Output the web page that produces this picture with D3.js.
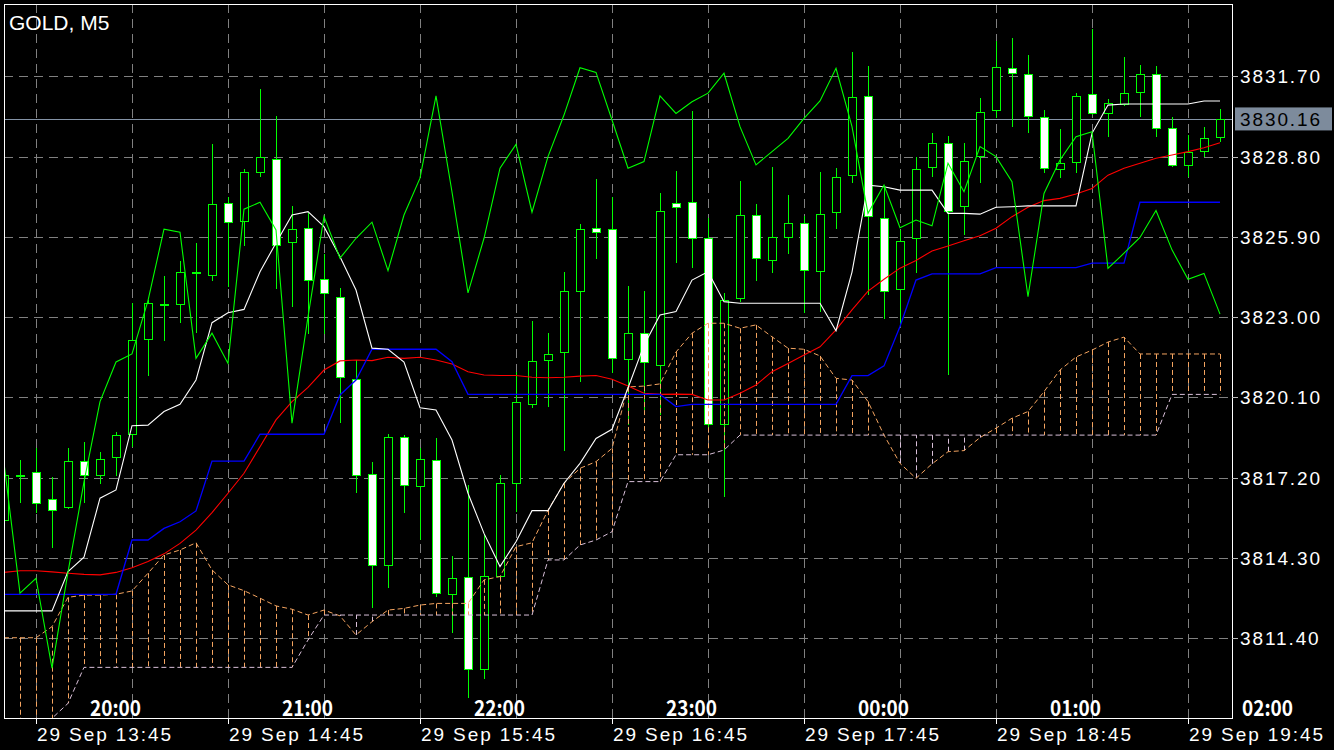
<!DOCTYPE html>
<html><head><meta charset="utf-8">
<script src="https://cdn.jsdelivr.net/npm/d3@7"></script>
<style>html,body{margin:0;padding:0;background:#000;overflow:hidden}</style>
</head><body>
<svg id="chart" width="1334" height="750"></svg>
<script>
// ---------------- DATA ----------------
const symbolTitle = "GOLD, M5";
const barTimes = ["13:35","13:40","13:45","13:50","13:55",
"14:00","14:05","14:10","14:15","14:20","14:25","14:30","14:35","14:40","14:45","14:50","14:55",
"15:00","15:05","15:10","15:15","15:20","15:25","15:30","15:35","15:40","15:45","15:50","15:55",
"16:00","16:05","16:10","16:15","16:20","16:25","16:30","16:35","16:40","16:45","16:50","16:55",
"17:00","17:05","17:10","17:15","17:20","17:25","17:30","17:35","17:40","17:45","17:50","17:55",
"18:00","18:05","18:10","18:15","18:20","18:25","18:30","18:35","18:40","18:45","18:50","18:55",
"19:00","19:05","19:10","19:15","19:20","19:25","19:30","19:35","19:40","19:45","19:50","19:55"];

const openP = [3815.67,3817.30,3817.42,3816.42,3816.13,3817.79,3817.30,3817.94,3818.78,3822.20,
3823.48,3823.46,3824.63,3824.51,3827.11,3826.45,3828.23,3828.72,3825.70,3826.23,
3824.37,3823.72,3820.76,3817.32,3814.05,3818.66,3816.90,3817.84,3812.99,3813.60,
3810.28,3813.63,3817.00,3819.85,3821.45,3821.73,3823.94,3826.21,3826.17,3821.48,
3822.42,3821.27,3827.11,3827.15,3825.85,3819.14,3823.68,3826.69,3825.04,3825.87,
3826.39,3824.67,3826.79,3828.13,3831.00,3826.59,3824.01,3825.85,3828.41,3829.28,
3827.03,3828.80,3830.46,3832.01,3831.78,3830.24,3828.35,3828.62,3831.05,3830.36,
3830.70,3831.12,3831.77,3829.82,3828.52,3828.98,3829.50];
const highP = [3817.77,3817.84,3818.27,3817.22,3818.26,3818.48,3818.13,3818.86,3823.50,3823.62,
3824.49,3825.04,3825.69,3829.25,3827.35,3828.34,3831.24,3830.26,3827.02,3826.76,
3825.28,3824.04,3821.45,3817.76,3818.78,3818.74,3818.26,3818.65,3814.37,3816.94,
3815.13,3817.30,3821.02,3822.86,3822.44,3824.64,3826.37,3827.99,3827.35,3824.13,
3823.94,3827.50,3828.28,3830.45,3826.57,3823.86,3827.92,3827.09,3828.43,3827.41,
3826.65,3828.23,3828.38,3832.57,3832.07,3827.71,3826.15,3828.77,3829.64,3829.54,
3829.28,3830.91,3832.98,3833.09,3832.47,3830.48,3829.79,3831.09,3833.40,3830.88,
3832.41,3832.11,3832.07,3830.22,3829.58,3829.88,3830.51];
const lowP = [3815.49,3816.29,3815.93,3814.65,3816.07,3816.30,3816.97,3817.26,3818.31,3820.87,
3822.15,3822.80,3822.42,3824.32,3824.08,3825.58,3828.05,3824.01,3823.36,3822.38,
3822.39,3819.17,3816.66,3812.48,3813.23,3815.94,3814.95,3812.90,3811.60,3809.23,
3809.92,3813.51,3815.97,3819.73,3819.77,3818.18,3820.67,3825.09,3820.98,3819.10,
3819.65,3819.47,3824.95,3824.76,3819.00,3816.51,3823.56,3824.31,3824.61,3825.28,
3823.16,3823.20,3826.18,3827.84,3823.80,3822.92,3822.66,3824.61,3828.07,3820.91,
3825.97,3827.84,3830.18,3829.88,3829.66,3828.20,3828.02,3828.20,3830.30,3829.52,
3830.63,3830.24,3829.52,3828.43,3828.07,3828.77,3829.34];
const closeP = [3817.30,3817.30,3816.31,3816.03,3817.79,3817.30,3817.87,3818.73,3822.18,3823.50,
3823.48,3824.62,3824.63,3827.08,3826.44,3828.23,3828.77,3825.63,3826.17,3824.34,
3823.86,3820.83,3817.30,3814.05,3818.68,3816.93,3817.87,3813.03,3813.57,3810.28,
3813.64,3817.00,3819.92,3821.42,3821.67,3823.94,3826.17,3826.07,3821.51,3822.42,
3821.36,3826.85,3826.97,3825.85,3819.14,3823.62,3826.69,3825.13,3825.88,3826.39,
3824.70,3826.72,3828.05,3830.96,3826.65,3823.94,3825.76,3828.34,3829.28,3826.81,
3828.65,3830.40,3832.03,3831.84,3830.28,3828.38,3828.58,3831.00,3830.36,3830.73,
3831.09,3831.77,3829.82,3828.50,3828.98,3829.46,3830.16];

// Ichimoku style lines
const tenkan = [3812.39,3812.39,3812.39,3812.39,3813.81,3814.33,3816.46,3816.76,3819.08,3819.10,
3819.59,3819.85,3820.73,3822.80,3823.16,3823.28,3824.64,3825.68,3826.69,3826.81,
3826.27,3825.18,3823.98,3821.88,3821.84,3821.38,3819.73,3819.65,3818.56,3816.64,
3815.19,3813.99,3814.89,3816.01,3816.01,3817.00,3817.72,3818.62,3818.95,3820.44,
3821.99,3823.08,3823.20,3824.34,3824.64,3823.56,3823.50,3823.50,3823.50,3823.50,
3823.50,3823.50,3822.51,3824.63,3827.77,3827.71,3827.59,3827.59,3827.59,3826.75,
3826.75,3826.72,3826.97,3826.99,3827.02,3827.02,3827.02,3827.02,3829.64,3830.66,
3830.70,3830.70,3830.70,3830.70,3830.70,3830.81,3830.81];
const kijun = [3812.99,3812.99,3812.99,3812.99,3812.99,3812.99,3812.99,3812.99,3814.95,3814.95,
3815.37,3815.61,3816.00,3817.80,3817.80,3817.80,3818.77,3818.77,3818.77,3818.77,
3818.77,3820.19,3820.73,3821.84,3821.84,3821.84,3821.84,3821.84,3821.39,3820.21,
3820.21,3820.21,3820.21,3820.21,3820.21,3820.21,3820.21,3820.21,3820.21,3820.21,
3820.21,3820.21,3819.77,3819.85,3819.85,3819.85,3819.85,3819.85,3819.85,3819.85,
3819.85,3819.85,3819.85,3820.89,3820.89,3821.24,3822.66,3824.34,3824.56,3824.56,
3824.56,3824.56,3824.79,3824.79,3824.79,3824.79,3824.79,3824.79,3824.95,3824.95,
3824.95,3827.15,3827.15,3827.15,3827.15,3827.15,3827.15];
const movingAvg = [3813.78,3813.84,3813.84,3813.80,3813.75,3813.71,3813.69,3813.78,3813.95,3814.17,
3814.45,3814.83,3815.31,3815.94,3816.64,3817.36,3818.32,3819.29,3819.95,3820.46,
3821.09,3821.42,3821.45,3821.43,3821.55,3821.51,3821.55,3821.45,3821.31,3821.03,
3820.91,3820.89,3820.89,3820.83,3820.81,3820.83,3820.87,3820.89,3820.76,3820.51,
3820.25,3820.21,3820.22,3820.21,3820.01,3820.01,3820.25,3820.55,3821.03,3821.33,
3821.63,3821.93,3822.54,3823.26,3823.94,3824.37,3824.77,3825.05,3825.39,3825.57,
3825.76,3825.94,3826.21,3826.63,3826.97,3827.21,3827.29,3827.45,3827.65,3828.13,
3828.38,3828.56,3828.74,3828.86,3828.98,3829.12,3829.30];
const chikou = [3817.73,3813.03,3813.57,3810.32,3813.79,3817.05,3819.95,3821.38,3821.67,3823.60,
3826.18,3826.07,3821.51,3822.42,3821.33,3826.90,3827.15,3826.15,3819.17,3823.01,
3826.63,3825.13,3825.85,3826.43,3824.68,3826.69,3828.02,3830.99,3827.52,3823.88,
3825.85,3828.38,3829.24,3826.79,3828.80,3830.30,3832.01,3831.84,3830.12,3828.38,
3828.62,3830.99,3830.36,3830.78,3831.09,3831.81,3829.88,3828.50,3828.98,3829.46,
3830.18,3830.81,3831.99,3829.88,3826.75,3827.77,3826.23,3826.51,3826.30,3828.56,
3827.53,3829.16,3828.80,3827.89,3823.74,3827.47,3828.68,3829.52,3829.70,3824.76,
3825.31,3825.88,3826.85,3825.43,3824.37,3824.58,3823.11];
const spanA = [3811.42,3811.42,3811.42,3811.82,3812.88,3812.96,3812.96,3812.99,3813.11,3813.75,
3814.41,3814.59,3814.85,3813.87,3813.33,3813.12,3812.85,3812.57,3812.45,3812.24,
3812.42,3812.21,3811.52,3812.00,3812.42,3812.48,3812.60,3812.66,3812.66,3812.66,
3813.51,3813.63,3814.71,3814.85,3816.03,3817.00,3817.54,3817.78,3818.26,3820.48,
3820.51,3820.59,3821.74,3822.42,3822.78,3822.78,3822.60,3822.72,3822.29,3821.88,
3821.84,3821.60,3820.79,3820.73,3819.95,3818.74,3817.72,3817.18,3817.70,3818.14,
3818.18,3818.65,3818.99,3819.35,3819.59,3820.31,3821.09,3821.56,3821.81,3822.10,
3822.28,3821.67,3821.67,3821.67,3821.67,3821.67,3821.67];
const spanB = [3808.00,3808.00,3808.00,3808.51,3809.05,3810.35,3810.35,3810.35,3810.35,3810.35,
3810.35,3810.35,3810.35,3810.35,3810.35,3810.35,3810.35,3810.35,3810.35,3811.34,
3812.24,3812.24,3812.24,3812.24,3812.24,3812.24,3812.24,3812.24,3812.24,3812.24,
3812.24,3812.24,3812.24,3812.24,3814.23,3814.23,3814.77,3814.95,3815.25,3817.06,
3817.06,3817.06,3818.03,3818.03,3818.03,3818.20,3818.74,3818.74,3818.74,3818.74,
3818.74,3818.74,3818.74,3818.74,3818.74,3818.74,3818.74,3818.74,3818.74,3818.74,
3818.74,3818.74,3818.74,3818.74,3818.74,3818.74,3818.74,3818.74,3818.74,3818.74,
3818.74,3818.74,3818.74,3820.21,3820.21,3820.21,3820.21];

const priceTicks = [3831.70,3828.80,3825.90,3823.00,3820.10,3817.20,3814.30,3811.40];
const currentPrice = 3830.16;
const dateLabels = ["29 Sep 13:45","29 Sep 14:45","29 Sep 15:45","29 Sep 16:45","29 Sep 17:45","29 Sep 18:45","29 Sep 19:45"];
const dateLabelTimes = ["13:45","14:45","15:45","16:45","17:45","18:45","19:45"];
const hourLabels = ["20:00","21:00","22:00","23:00","00:00","01:00","02:00"];
const hourLabelTimes = ["14:00","15:00","16:00","17:00","18:00","19:00","20:00"];

// ---------------- CHART ----------------
const W = 1334, H = 750;
const P = {l: 4, t: 4, r: 1232, b: 718};
const parseT = d3.timeParse("%Y-%m-%d %H:%M");
const tt = s => parseT("2025-09-29 " + s);

const x = d3.scaleTime()
  .domain([tt(barTimes[0]), tt(barTimes[barTimes.length - 1])])
  .range([4, 1220]);
const y = d3.scaleLinear().domain([3811.40, 3831.70]).range([638.3, 76.3]);
const bx = i => x(tt(barTimes[i]));

const svg = d3.select("#chart");
svg.append("rect").attr("width", W).attr("height", H).attr("fill", "#000");

svg.append("defs").append("clipPath").attr("id", "plotclip")
  .append("rect").attr("x", P.l).attr("y", P.t).attr("width", P.r - P.l).attr("height", P.b - P.t);

const plot = svg.append("g").attr("clip-path", "url(#plotclip)");
const gridColor = "#808080";

// grid
const gridTimes = barTimes.filter((d, i) => i % 6 === 2);
plot.append("g").selectAll("line").data(gridTimes).join("line")
  .attr("x1", d => Math.round(x(tt(d))) + 0.5).attr("x2", d => Math.round(x(tt(d))) + 0.5)
  .attr("y1", P.t).attr("y2", P.b)
  .attr("stroke", gridColor).attr("stroke-width", 1).attr("stroke-dasharray", "9,6");
plot.append("g").selectAll("line").data(priceTicks).join("line")
  .attr("x1", P.l).attr("x2", P.r)
  .attr("y1", d => Math.round(y(d)) + 0.5).attr("y2", d => Math.round(y(d)) + 0.5)
  .attr("stroke", gridColor).attr("stroke-width", 1).attr("stroke-dasharray", "9,6");

// current price line
plot.append("line").attr("x1", P.l).attr("x2", P.r)
  .attr("y1", Math.round(y(currentPrice)) + 0.5).attr("y2", Math.round(y(currentPrice)) + 0.5)
  .attr("stroke", "#8493a6").attr("stroke-width", 1);

// candles
const idx = d3.range(barTimes.length);
const lime = "#00ff00";
const cg = plot.append("g").attr("shape-rendering", "crispEdges");
cg.selectAll("line.wick").data(idx).join("line").attr("class", "wick")
  .attr("x1", i => Math.round(bx(i)) + 0.5).attr("x2", i => Math.round(bx(i)) + 0.5)
  .attr("y1", i => y(highP[i])).attr("y2", i => y(lowP[i]))
  .attr("stroke", lime).attr("stroke-width", 1);
cg.selectAll("rect.body").data(idx).join("rect").attr("class", "body")
  .attr("x", i => Math.round(bx(i)) - 3.5)
  .attr("width", 8)
  .attr("y", i => Math.round(y(Math.max(openP[i], closeP[i]))) + 0.5)
  .attr("height", i => Math.max(1, Math.round(Math.abs(y(openP[i]) - y(closeP[i])))))
  .attr("fill", i => closeP[i] >= openP[i] ? "#000" : "#fff")
  .attr("stroke", lime).attr("stroke-width", 1.4);

// cloud hatching
const sandy = "#f4a460", thistle = "#d8bfd8";
plot.append("g").selectAll("line").data(idx).join("line")
  .attr("x1", i => Math.round(bx(i)) + 0.5).attr("x2", i => Math.round(bx(i)) + 0.5)
  .attr("y1", i => y(spanA[i])).attr("y2", i => y(spanB[i]))
  .attr("stroke", i => spanA[i] >= spanB[i] ? sandy : thistle)
  .attr("stroke-width", 1).attr("stroke-dasharray", "5,3");

const lineGen = arr => d3.line().x((d, i) => bx(i)).y(d => y(d))(arr);
plot.append("path").attr("d", lineGen(spanA)).attr("fill", "none")
  .attr("stroke", sandy).attr("stroke-width", 1).attr("stroke-dasharray", "5,3");
plot.append("path").attr("d", lineGen(spanB)).attr("fill", "none")
  .attr("stroke", thistle).attr("stroke-width", 1).attr("stroke-dasharray", "5,3");

plot.append("path").attr("d", lineGen(movingAvg)).attr("fill", "none").attr("stroke", "#ff0000").attr("stroke-width", 1.1);
plot.append("path").attr("d", lineGen(kijun)).attr("fill", "none").attr("stroke", "#0000ff").attr("stroke-width", 1.3);
plot.append("path").attr("d", lineGen(tenkan)).attr("fill", "none").attr("stroke", "#ffffff").attr("stroke-width", 1.1);
plot.append("path").attr("d", lineGen(chikou)).attr("fill", "none").attr("stroke", lime).attr("stroke-width", 1.1);

// border
svg.append("rect").attr("x", P.l + 0.5).attr("y", P.t + 0.5)
  .attr("width", P.r - P.l).attr("height", P.b - P.t)
  .attr("fill", "none").attr("stroke", "#fff").attr("stroke-width", 1);

// title
svg.append("text").attr("x", 9).attr("y", 29.5).text(symbolTitle)
  .attr("fill", "#fff").attr("font-family", "Liberation Sans, Arial, sans-serif").attr("font-size", 21);

// price axis
const axisFont = "Liberation Sans, Arial, sans-serif";
svg.append("g").selectAll("line").data(priceTicks).join("line")
  .attr("x1", P.r).attr("x2", P.r + 6)
  .attr("y1", d => Math.round(y(d)) + 0.5).attr("y2", d => Math.round(y(d)) + 0.5)
  .attr("stroke", "#bbb");
svg.append("g").selectAll("text").data(priceTicks).join("text")
  .attr("x", 1240).attr("y", d => y(d) + 7)
  .text(d => d.toFixed(2))
  .attr("fill", "#fff").attr("font-family", axisFont).attr("font-size", 19).attr("letter-spacing", 1.9);

// current price box
svg.append("rect").attr("x", 1235).attr("y", y(currentPrice) - 11.5).attr("width", 97).attr("height", 23)
  .attr("fill", "#7d8b9c");
svg.append("text").attr("x", 1240).attr("y", y(currentPrice) + 7).text(currentPrice.toFixed(2))
  .attr("fill", "#000").attr("font-family", axisFont).attr("font-size", 19).attr("letter-spacing", 1.9);

// time axis
svg.append("g").selectAll("line").data(dateLabelTimes).join("line")
  .attr("x1", d => Math.round(x(tt(d))) + 0.5).attr("x2", d => Math.round(x(tt(d))) + 0.5)
  .attr("y1", P.b).attr("y2", P.b + 6).attr("stroke", "#fff");
svg.append("g").selectAll("text").data(dateLabels).join("text")
  .attr("x", (d, i) => x(tt(dateLabelTimes[i])) + 1).attr("y", 741)
  .text(d => d)
  .attr("fill", "#fff").attr("font-family", axisFont).attr("font-size", 19).attr("letter-spacing", 1.9);

svg.append("g").selectAll("text").data(hourLabels).join("text")
  .attr("x", (d, i) => x(tt(hourLabelTimes[i])) + 6).attr("y", 716)
  .text(d => d)
  .attr("textLength", 51).attr("lengthAdjust", "spacingAndGlyphs")
  .attr("fill", "#fff").attr("font-family", "Noto Sans CJK JP, sans-serif").attr("font-weight", "bold")
  .attr("font-size", 22);
</script>
</body></html>
